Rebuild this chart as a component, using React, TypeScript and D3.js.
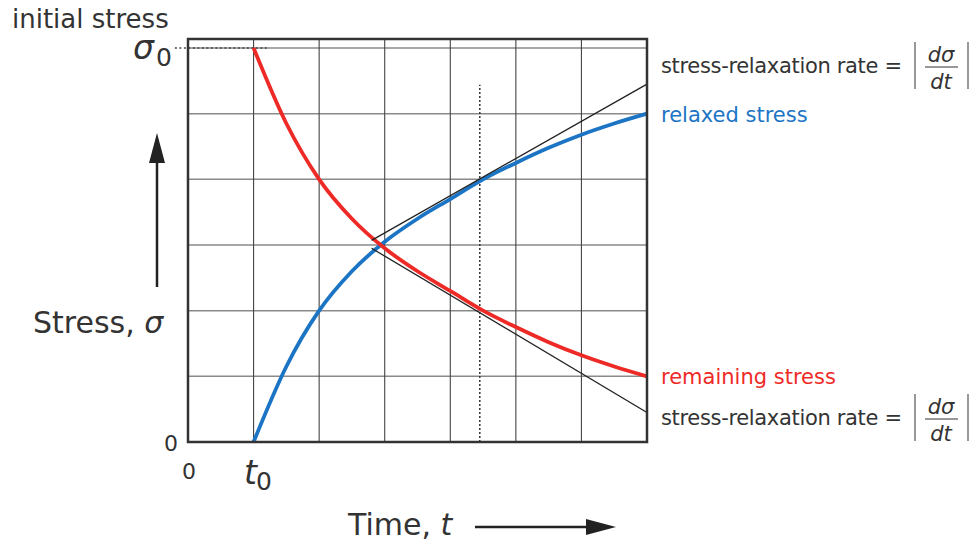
import React from 'react';
import * as d3 from 'd3';

// time grid (t units) and stress levels (sigma units)
const timeTicks = [1, 2, 3, 4, 5, 6];
const stressTicks = [1, 2, 3, 4, 5, 6];

// remaining stress (red)
const remaining: [number, number][] = [
  [1, 6], [1.5, 4.85], [2, 4.0], [2.5, 3.4], [3, 2.95], [3.5, 2.6], [4, 2.3],
  [4.5, 2.0], [5, 1.75], [5.5, 1.52], [6, 1.32], [6.5, 1.15], [7, 1.0],
];

// relaxed stress (blue)
const relaxed: [number, number][] = [
  [1, 0], [1.5, 1.15], [2, 2.0], [2.5, 2.6], [3, 3.05], [3.5, 3.4], [4, 3.7],
  [4.5, 4.0], [5, 4.25], [5.5, 4.48], [6, 4.68], [6.5, 4.85], [7, 5.0],
];

// tangent lines at t = 4.45
const upperTangent: [number, number][] = [[2.8, 3.07], [7, 5.45]];
const lowerTangent: [number, number][] = [[2.8, 2.95], [7, 0.45]];
const tangentT = 4.45;
const tangentTop = 5.44;

const W = 971;
const H = 544;
const FONT = '"DejaVu Sans", Verdana, sans-serif';
const TXT = '#333';
const RED = '#ee2a27';
const BLUE = '#1c75c4';

export default function App() {
  const x = d3.scaleLinear().domain([0, 7]).range([188, 647]);
  const y = d3.scaleLinear().domain([0, 6]).range([442, 48]);

  const line = d3.line<[number, number]>()
    .x(d => x(d[0]))
    .y(d => y(d[1]))
    .curve(d3.curveMonotoneX);
  const straight = d3.line<[number, number]>()
    .x(d => x(d[0]))
    .y(d => y(d[1]));

  const frameTop = y(6) - 9;

  const rateLabel = (baseline: number) => {
    const fx = 941;
    return (
      <g>
        <text x={661} y={baseline} fontSize={21} textLength={241} lengthAdjust="spacing" fill={TXT}>stress-relaxation rate =</text>
        <line x1={915} x2={915} y1={baseline - 31} y2={baseline + 16} stroke="#555" strokeWidth={1.2} />
        <line x1={968} x2={968} y1={baseline - 31} y2={baseline + 16} stroke="#555" strokeWidth={1.2} />
        <text x={fx} y={baseline - 11.5} fontSize={21} fontStyle="italic" textAnchor="middle" fill={TXT}>dσ</text>
        <line x1={925} x2={958} y1={baseline - 6} y2={baseline - 6} stroke={TXT} strokeWidth={1.2} />
        <text x={fx} y={baseline + 15.5} fontSize={21} fontStyle="italic" textAnchor="middle" fill={TXT}>dt</text>
      </g>
    );
  };

  return (
    <svg width={W} height={H} style={{ position: 'absolute', left: 0, top: 0, background: '#fff' }}
      fontFamily={FONT}>
      {/* horizontal grid */}
      {stressTicks.map(s => (
        <line key={'h' + s} x1={x(0)} x2={x(7)} y1={y(s)} y2={y(s)} stroke="#8a8a8a" strokeWidth={1.5} />
      ))}
      {/* vertical grid */}
      {timeTicks.map(t => (
        <line key={'v' + t} x1={x(t)} x2={x(t)} y1={frameTop} y2={y(0)} stroke="#444" strokeWidth={1.1} />
      ))}

      {/* sigma0 dotted guide */}
      <line x1={x(-0.2)} x2={x(1.2)} y1={y(6)} y2={y(6)} stroke="#444" strokeWidth={1.5} strokeDasharray="2,2.5" />

      {/* dotted vertical at tangent point */}
      <line x1={x(tangentT)} x2={x(tangentT)} y1={y(0)} y2={y(tangentTop)} stroke="#333" strokeWidth={1.5} strokeDasharray="2,2" />

      {/* curves */}
      <path d={line(relaxed) ?? ''} fill="none" stroke={BLUE} strokeWidth={3.8} />
      <path d={line(remaining) ?? ''} fill="none" stroke={RED} strokeWidth={3.8} />

      {/* tangents */}
      <path d={straight(upperTangent) ?? ''} fill="none" stroke="#222" strokeWidth={1.3} />
      <path d={straight(lowerTangent) ?? ''} fill="none" stroke="#222" strokeWidth={1.3} />

      {/* frame */}
      <rect x={x(0)} y={frameTop} width={x(7) - x(0)} height={y(0) - frameTop} fill="none" stroke="#333" strokeWidth={2.5} />

      {/* left labels */}
      <text x={12} y={28} fontSize={26} fill={TXT}>initial stress</text>
      <text x={133} y={59} fontSize={33} fontStyle="italic" fill={TXT}>σ</text>
      <text x={156} y={66} fontSize={25} fill={TXT}>0</text>
      <text x={178} y={451} fontSize={22} textAnchor="end" fill={TXT}>0</text>
      <text x={189} y={479} fontSize={22} textAnchor="middle" fill={TXT}>0</text>
      <text x={244} y={484} fontSize={33} fontStyle="italic" fill={TXT}>t</text>
      <text x={256} y={490} fontSize={25} fill={TXT}>0</text>

      <text x={33} y={333} fontSize={30} fill={TXT}>Stress, <tspan fontStyle="italic">σ</tspan></text>
      <line x1={157} x2={157} y1={287} y2={160} stroke="#222" strokeWidth={2.5} />
      <polygon points="157,133 149,163 165,163" fill="#222" />

      <text x={348} y={535} fontSize={30} fill={TXT}>Time, <tspan fontStyle="italic">t</tspan></text>
      <line x1={475} x2={590} y1={527} y2={527} stroke="#222" strokeWidth={2.5} />
      <polygon points="616,527 586,519 586,535" fill="#222" />

      {/* right labels */}
      {rateLabel(73)}
      <text x={661} y={122} fontSize={21} fill={BLUE}>relaxed stress</text>
      <text x={661} y={384} fontSize={21} fill={RED}>remaining stress</text>
      {rateLabel(425)}
    </svg>
  );
}
